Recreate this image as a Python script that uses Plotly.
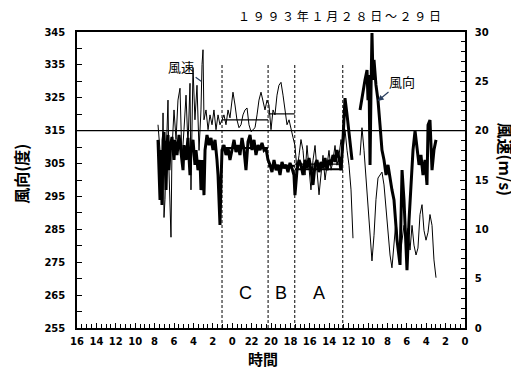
import plotly.graph_objects as go

# time axis: hours since 1993-01-28 00:00 (axis is reversed: later time on the left)
tick_hours = list(range(0, 41, 2))
tick_labels = [str(h % 24) for h in tick_hours]

# wind direction (deg), thick line
dir_hours = [31.65, 31.55, 31.44, 31.34, 31.24, 31.13, 31.03, 30.93, 30.82, 30.72, 30.62, 30.52, 30.41,
             30.21, 30.0, 29.9, 29.69, 29.48, 29.28, 29.07, 28.97, 28.76, 28.56, 28.35, 28.25, 28.04,
             27.84, 27.73, 27.53, 27.32, 27.22, 27.11, 27.01, 26.91, 26.8, 26.6, 26.39, 26.19, 25.98,
             25.77, 25.57, 25.46, 25.36, 25.26, 25.15, 25.05,
             24.85, 24.64, 24.43, 24.23, 24.02, 23.81, 23.61, 23.4, 23.2, 22.99, 22.78, 22.58, 22.37,
             22.16, 21.96, 21.75, 21.55, 21.34, 21.13, 20.93, 20.72, 20.52, 20.31,
             20.1, 19.9, 19.69, 19.48, 19.28, 19.07, 18.87, 18.66, 18.45, 18.25, 18.04, 17.84, 17.63, 17.53,
             17.32, 17.11, 16.91, 16.7, 16.49, 16.29, 16.08, 15.88, 15.67, 15.46, 15.26, 15.05, 14.85,
             14.64, 14.43, 14.23, 14.02, 13.81, 13.61, 13.4, 13.2, 12.99, 12.78, 12.58, 12.37, 12.16,
             11.96, 11.75, 11.65, None,
             10.82, 10.52, 10.31, 10.1, 10.0, 9.9, 9.79, 9.69, 9.59, 9.48, 9.38, 9.18, 8.97, 8.76, 8.56,
             8.35, 8.14, 7.94, 7.73, 7.53, 7.32, 7.01, 6.7, 6.49, 6.29, 6.08, 5.98, 5.77, 5.57, 5.36,
             5.15, 4.95, 4.74, 4.54, 4.33, 4.12, 3.92, 3.81, 3.61, 3.4, 3.2, 2.99]
dir_deg = [312.2, 301.5, 293.9, 309.1, 292.4, 312.2, 314.6, 306.1, 297.0, 310.6, 313.7, 303.0, 309.1,
           313.1, 306.1, 312.2, 307.6, 313.7, 309.1, 303.0, 310.6, 306.1, 312.8, 301.5, 309.1, 312.2,
           304.6, 309.1, 303.0, 306.1, 297.0, 298.5, 306.1, 295.4, 309.1, 313.7, 310.6, 312.8, 309.1,
           312.2, 306.1, 301.5, 293.9, 286.3, 300.0, 309.1,
           310.6, 307.6, 309.7, 306.1, 309.1, 312.2, 308.5, 310.6, 307.6, 312.8, 309.1, 303.0, 311.6,
           313.7, 309.1, 312.2, 307.6, 310.6, 309.1, 311.3, 309.1, 309.7, 306.1,
           304.6, 302.4, 306.1, 303.0, 304.6, 301.5, 305.5, 303.6, 304.6, 302.4, 305.2, 303.6, 301.5, 295.4,
           303.0, 306.1, 304.6, 301.5, 306.1, 303.6, 306.7, 303.0, 298.5, 304.6, 306.1, 302.4, 305.5,
           303.6, 306.7, 303.0, 306.1, 304.6, 307.6, 305.5, 309.1, 306.7, 303.0, 312.2, 324.9, 319.8,
           313.7, 309.1, 306.1, None,
           321.3, 327.4, 330.4, 333.4, 324.3, 331.9, 304.6, 327.4, 344.7, 330.4, 336.5, 328.9, 324.3,
           316.7, 309.1, 306.1, 301.5, 304.6, 300.0, 297.0, 293.9, 281.8, 274.2, 303.0, 293.9, 281.8,
           272.6, 287.8, 300.0, 309.1, 314.9, 309.1, 304.6, 307.6, 301.5, 306.1, 298.5, 316.7, 318.2,
           303.0, 309.1, 312.2]

# wind speed (m/s), thin line
spd_hours = [31.65, 31.44, 31.24, 31.13, 31.03, 30.93, 30.82, 30.72, 30.62, 30.52, 30.31, 30.21, 30.0,
             29.79, 29.59, 29.38, 29.18, 28.97, 28.76, 28.56, 28.35, 28.25, 28.04, 27.84, 27.63, 27.42,
             27.22, 27.11, 27.01, 26.91, 26.7, 26.49, 26.29, 26.08, 25.88, 25.67, 25.46, 25.26,
             25.05, 24.85, 24.64, 24.43, 24.23, 23.92, 23.71, 23.51, 23.3, 23.09, 22.89, 22.68, 22.47,
             22.27, 22.06, 21.86, 21.65, 21.44, 21.24, 21.03, 20.82, 20.62, 20.41,
             20.21, 20.0, 19.79, 19.59, 19.38, 19.18, 18.97, 18.76, 18.56, 18.35, 18.14, 17.94, 17.73, 17.53,
             17.32, 17.11, 16.91, 16.7, 16.49, 16.29, 16.08, 15.88, 15.67, 15.46, 15.26, 15.05, 14.85,
             14.64, 14.43, 14.23, 14.02, 13.81, 13.61, 13.4, 13.2, 12.99, 12.78, 12.58, 12.37, 12.16,
             11.96, 11.75, 11.55, None,
             10.82, 10.62, 10.41, 10.21, 10.0, 9.79, 9.59, 9.38, 9.18, 8.97, 8.76, 8.56, 8.35, 8.14,
             7.94, 7.73, 7.53, 7.32, 7.11, 6.91, 6.7, 6.49, 6.29, 6.08, 5.88, 5.67, 5.46, 5.26, 5.05,
             4.85, 4.64, 4.43, 4.23, 4.02, 3.81, 3.61, 3.4, 3.2, 2.99]
spd_ms = [20.6, 18.0, 14.0, 21.8, 11.2, 13.0, 17.0, 21.1, 23.1, 16.0, 9.2, 18.0, 22.1,
          19.1, 23.1, 24.3, 17.0, 20.1, 23.6, 18.5, 24.8, 14.0, 26.4, 21.1, 24.6, 18.0,
          22.1, 26.7, 28.2, 21.1, 22.1, 20.1, 21.6, 20.6, 22.1, 20.1, 21.6, 20.6,
          21.1, 21.6, 20.6, 22.1, 21.3, 23.9, 22.6, 21.1, 20.3, 20.6, 21.6, 22.1, 22.3,
          20.6, 19.9, 20.1, 20.3, 21.6, 23.1, 23.9, 23.1, 22.1, 23.1,
          22.6, 20.1, 22.1, 21.6, 23.6, 24.6, 24.9, 23.6, 22.1, 20.6, 21.1, 20.1, 19.3, 18.5,
          16.0, 17.5, 19.1, 18.0, 15.5, 18.5, 16.5, 14.0, 17.0, 18.5, 16.0, 13.5, 15.5,
          17.5, 15.0, 16.5, 18.0, 16.0, 17.0, 18.5, 16.5, 17.5, 19.1, 18.0, 20.1, 18.0,
          16.5, 14.0, 9.1, None,
          17.5, 20.3, 18.0, 15.0, 12.0, 8.9, 6.8, 9.4, 13.0, 15.2, 15.5, 15.8, 14.5, 12.0,
          9.1, 7.4, 6.1, 8.9, 10.9, 8.4, 7.1, 8.9, 10.4, 9.4, 10.1, 7.9, 10.4, 8.4, 7.4,
          8.1, 11.5, 12.5, 9.9, 8.9, 9.7, 11.5, 10.4, 6.9, 5.1]

# period boundaries (hours) and labels
period_bounds = [25.05, 20.3, 17.55, 12.6]
period_names = ["C", "B", "A"]
period_dir_mean = [309.7, 304.3, 303.3]
period_spd_mean = [21.1, 21.7, 16.6]

fig = go.Figure()
fig.add_trace(go.Scatter(x=spd_hours, y=spd_ms, yaxis="y2", mode="lines",
                         line=dict(color="black", width=1), connectgaps=False, showlegend=False))
fig.add_trace(go.Scatter(x=dir_hours, y=dir_deg, mode="lines",
                         line=dict(color="black", width=3), connectgaps=False, showlegend=False))

for i in range(3):
    x0, x1 = period_bounds[i], period_bounds[i + 1]
    fig.add_trace(go.Scatter(x=[x0, x1], y=[period_spd_mean[i]] * 2, yaxis="y2", mode="lines",
                             line=dict(color="black", width=1.2), showlegend=False))
    fig.add_trace(go.Scatter(x=[x0, x1], y=[period_dir_mean[i]] * 2, mode="lines",
                             line=dict(color="black", width=2), showlegend=False))
    fig.add_annotation(x=(x0 + x1) / 2, y=265.5, text=period_names[i], showarrow=False,
                       font=dict(size=18, family="Liberation Sans", color="black"))

for b in period_bounds:
    fig.add_shape(type="line", x0=b, x1=b, y0=255, y1=335, xref="x", yref="y",
                  line=dict(color="black", width=1, dash="3px,2px"))

fig.add_shape(type="line", x0=0, x1=1, xref="paper", y0=315, y1=315, yref="y",
              line=dict(color="black", width=1.3))

tickfont = dict(size=10, family="DejaVu Sans", color="black", weight="bold")
# the page body adds an 8px offset, so the figure is 8px smaller and margins shifted
fig.update_layout(
    width=511, height=363,
    margin=dict(l=69, r=54, t=24, b=43, autoexpand=False),
    paper_bgcolor="white", plot_bgcolor="white",
    xaxis=dict(range=[40, 0], tickvals=tick_hours, ticktext=tick_labels, ticks="inside",
               ticklen=5, tickwidth=1, tickcolor="black", showgrid=False, zeroline=False,
               showline=True, linecolor="black", linewidth=1.5, mirror=True, tickfont=tickfont,
               automargin=False, ticklabelstandoff=3,
               minor=dict(dtick=0.5, ticks="inside", ticklen=4, tickcolor="black")),
    yaxis=dict(range=[255, 345], dtick=10, tick0=255, ticks="inside", ticklen=5,
               tickcolor="black", showgrid=False, zeroline=False, showline=True,
               linecolor="black", linewidth=1.5, tickfont=tickfont, automargin=False,
               ticklabelstandoff=8,
               minor=dict(dtick=5, ticks="inside", ticklen=5, tickcolor="black")),
    yaxis2=dict(range=[0, 30], dtick=5, overlaying="y", side="right", ticks="inside", ticklen=5,
                tickcolor="black", showgrid=False, zeroline=False, showline=True,
                linecolor="black", linewidth=1.5, tickfont=tickfont, automargin=False,
                ticklabelstandoff=6,
                minor=dict(dtick=1, ticks="inside", ticklen=4, tickcolor="black")),
)

cjk = "Noto Sans CJK JP"
fig.add_annotation(xref="paper", yref="paper", x=0.943, y=1.057, xanchor="right", yanchor="middle",
                   text="１ ９ ９ ３ 年 １ 月 ２ ８ 日 ～ ２ ９ 日", showarrow=False,
                   font=dict(size=12, family=cjk, color="black"))
fig.add_annotation(xref="paper", yref="paper", x=-0.145, y=0.52, xanchor="center", yanchor="middle",
                   text="<b>風向(度)</b>", textangle=-90, showarrow=False,
                   font=dict(size=16, family=cjk, color="black"))
fig.add_annotation(xref="paper", yref="paper", x=1.105, y=0.57, xanchor="center", yanchor="middle",
                   text="<b>風速(m/s)</b>", textangle=90, showarrow=False,
                   font=dict(size=16, family=cjk, color="black"))
fig.add_annotation(xref="paper", yref="paper", x=0.48, y=-0.102, xanchor="center", yanchor="middle",
                   text="<b>時間</b>", showarrow=False, borderpad=0,
                   font=dict(size=15, family=cjk, color="black"))
fig.add_annotation(x=27.2, y=25.0, yref="y2", ax=-20, ay=-15, text="風速", showarrow=True,
                   arrowhead=0, arrowwidth=1.2, font=dict(size=13, family=cjk, color="black"))
fig.add_annotation(x=9.0, y=324, ax=24, ay=-20, text="風向", showarrow=True,
                   arrowhead=2, arrowwidth=1.2, font=dict(size=13, family=cjk, color="black"))

fig.write_html("out.html")
